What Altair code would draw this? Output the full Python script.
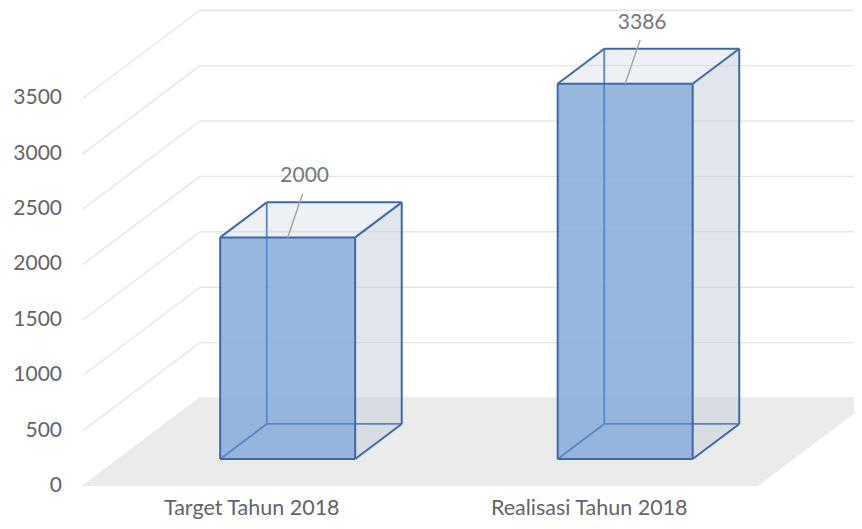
import altair as alt
import pandas as pd

# ---- data ----
categories = ["Target Tahun 2018", "Realisasi Tahun 2018"]
values = [2000, 3386]
y_ticks = [0, 500, 1000, 1500, 2000, 2500, 3000, 3500]

# ---- geometry / style constants (pixels) ----
W, H = 846, 513
X0, UX = 75.0, 337.5        # pixel of category-unit 0, pixels per category
Y0, VY = 478.0, 0.1108      # pixel of value 0 on front plane, pixels per value unit
DEPTH_DX, DEPTH_DY = 117.0, 88.0
K = DEPTH_DX / UX           # depth shift in category units
DV = DEPTH_DY / VY          # depth shift in value units
BW = 0.4                    # bar width (category units)
DF, DB = 0.307, 0.705       # bar front / back depth fraction
N = len(categories)
FONT = "Lato"

xs = alt.Scale(domain=[-X0 / UX, (W - X0) / UX], range=[0, W], nice=False, zero=False)
ys = alt.Scale(domain=[(Y0 - H) / VY, Y0 / VY], range=[H, 0], nice=False, zero=False)


def X(f="x"):
    return alt.X(f"{f}:Q", scale=xs, axis=None, stack=None)


def Y(f="y"):
    return alt.Y(f"{f}:Q", scale=ys, axis=None, stack=None)


# ---- gridlines ----
grid_diag = pd.DataFrame({
    "x": [0.0] * len(y_ticks), "y": y_ticks,
    "x2": [K] * len(y_ticks), "y2": [v + DV for v in y_ticks],
})
grid_h = pd.DataFrame({
    "x": [K] * len(y_ticks), "x2": [N + K] * len(y_ticks),
    "y": [v + DV for v in y_ticks],
})
GRID = dict(color="#e6e6e6", strokeWidth=1.4, clip=True)
g1 = alt.Chart(grid_diag).mark_rule(**GRID).encode(x=X(), y=Y(), x2="x2:Q", y2="y2:Q")
g2 = alt.Chart(grid_h).mark_rule(**GRID).encode(x=X(), y=Y(), x2="x2:Q")

# ---- floor ----
floor = pd.DataFrame({"y": [0.0, DV], "x": [0.0, K], "x2": [float(N), N + K], "id": ["f", "f"]})
floor_ch = alt.Chart(floor).mark_area(orient="horizontal", color="#ebebeb", clip=True).encode(
    y=Y(), x=X(), x2="x2:Q", detail="id:N")

# ---- 3D bar faces ----
top_rows, side_rows, front_rows, edge_rows, lab_rows, lead_rows = [], [], [], [], [], []
for i, (cat, val) in enumerate(zip(categories, values)):
    c = i + 0.5
    ul, ur = c - BW / 2, c + BW / 2
    for d in (DF, DB):
        top_rows.append({"id": cat, "y": val + d * DV, "x": ul + d * K, "x2": ur + d * K})
        side_rows.append({"id": cat, "x": ur + d * K, "y": d * DV, "y2": val + d * DV})
    front_rows.append({"id": cat, "x": ul + DF * K, "x2": ur + DF * K, "y": DF * DV, "y2": val + DF * DV})

    def P(u, v, d):
        return (u + d * K, v + d * DV)

    edges = [
        # front face
        ((ul, 0, DF), (ur, 0, DF), 0), ((ur, 0, DF), (ur, val, DF), 0),
        ((ur, val, DF), (ul, val, DF), 0), ((ul, val, DF), (ul, 0, DF), 0),
        # back face
        ((ul, 0, DB), (ur, 0, DB), 1), ((ur, 0, DB), (ur, val, DB), 0),
        ((ur, val, DB), (ul, val, DB), 0), ((ul, val, DB), (ul, 0, DB), 1),
        # depth edges
        ((ul, 0, DF), (ul, 0, DB), 1), ((ur, 0, DF), (ur, 0, DB), 0),
        ((ur, val, DF), (ur, val, DB), 0), ((ul, val, DF), (ul, val, DB), 0),
    ]
    for a, b, hidden in edges:
        pa, pb = P(*a), P(*b)
        edge_rows.append({"x": pa[0], "y": pa[1], "x2": pb[0], "y2": pb[1], "hidden": hidden})

    tx, ty = c + DF * K, val + DF * DV
    lab_rows.append({"x": tx + 17 / UX, "y": ty + 61 / VY, "t": str(val)})
    lead_rows.append({"x": tx, "y": ty, "x2": tx + 15 / UX, "y2": ty + 44 / VY})

top_df = pd.DataFrame(top_rows)
side_df = pd.DataFrame(side_rows)
front_df = pd.DataFrame(front_rows)
edge_df = pd.DataFrame(edge_rows)

top_ch = alt.Chart(top_df).mark_area(orient="horizontal", color="#c8d0dc", opacity=0.32).encode(
    y=Y(), x=X(), x2="x2:Q", detail="id:N")
side_ch = alt.Chart(side_df).mark_area(orient="vertical", color="#c8d0dc", opacity=0.55).encode(
    x=X(), y=Y(), y2="y2:Q", detail="id:N")
front_ch = alt.Chart(front_df).mark_rect(color="#89addb", opacity=0.88).encode(
    x=X(), x2="x2:Q", y=Y(), y2="y2:Q")

hid_ch = alt.Chart(edge_df[edge_df.hidden == 1]).mark_rule(color="#5b86c3", strokeWidth=1.8).encode(
    x=X(), y=Y(), x2="x2:Q", y2="y2:Q")
vis_ch = alt.Chart(edge_df[edge_df.hidden == 0]).mark_rule(color="#3f69a6", strokeWidth=2.0).encode(
    x=X(), y=Y(), x2="x2:Q", y2="y2:Q")

# ---- labels ----
lead_ch = alt.Chart(pd.DataFrame(lead_rows)).mark_rule(color="#a6a6a6", strokeWidth=1.5).encode(
    x=X(), y=Y(), x2="x2:Q", y2="y2:Q")
dlab_ch = alt.Chart(pd.DataFrame(lab_rows)).mark_text(
    font=FONT, fontSize=21, color="#767676", align="center", baseline="middle").encode(
    x=X(), y=Y(), text="t:N")

ytick_df = pd.DataFrame({"x": [0.0] * len(y_ticks), "y": y_ticks, "t": [str(v) for v in y_ticks]})
ytick_ch = alt.Chart(ytick_df).mark_text(
    font=FONT, fontSize=21, color="#646464", align="right", baseline="middle", dx=-21).encode(
    x=X(), y=Y(), text="t:N")

cat_df = pd.DataFrame({"x": [i + 0.5 for i in range(N)], "t": categories})
cat_ch = alt.Chart(cat_df).mark_text(
    font=FONT, fontSize=21.5, color="#646464", align="center", baseline="bottom").encode(
    x=X(), y=alt.value(H - 1), text="t:N")

chart = alt.layer(
    g1, g2, floor_ch, top_ch, side_ch, front_ch, hid_ch, vis_ch, lead_ch, dlab_ch, ytick_ch, cat_ch
).properties(width=W, height=H, padding=0, autosize="none").configure_view(stroke=None)

chart.save("out.html", embed_options={"renderer": "svg", "actions": False})
